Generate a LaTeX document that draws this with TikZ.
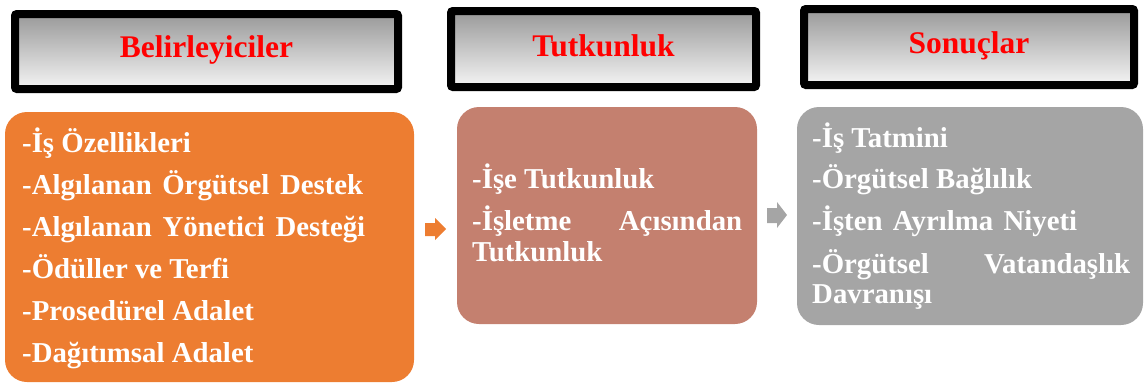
\documentclass[tikz,border=0pt]{standalone}
\usepackage{fontspec}
\setmainfont{Liberation Serif}
\definecolor{orangeA}{HTML}{ED7D31}
\definecolor{roseA}{HTML}{C4806F}
\definecolor{greyA}{HTML}{A5A5A5}
\definecolor{headRed}{HTML}{FF0000}
\hbadness=10000
\tikzset{
  headbox/.style={draw=black, line width=8pt, rounded corners=2pt,
    top color=black!40, bottom color=black!4},
  headtext/.style={anchor=base, inner sep=0pt, text=headRed,
    font=\fontsize{31.5}{36}\selectfont\bfseries},
  bodybox/.style={rounded corners=22pt},
  item/.style={anchor=base west, inner sep=0pt, text=white,
    font=\fontsize{28.8}{32}\selectfont\bfseries},
}
% a justified line of a given width
\newcommand{\jline}[2]{\hbox to #1pt{#2}}
\begin{document}
\begin{tikzpicture}[x=1pt, y=-1pt]
  \useasboundingbox (0,0) rectangle (1145,383);

  % column headings
  \draw[headbox] (15,14) rectangle (398,89);
  \draw[headbox] (451,11) rectangle (756,87);
  \draw[headbox] (804,9) rectangle (1134,85);
  \node[headtext] (h1) at (206.5,57) {Belirleyiciler};
  \node[headtext] (h2) at (603.5,56) {Tutkunluk};
  \node[headtext] (h3) at (969,53) {Sonuçlar};

  % content panels
  \fill[bodybox, orangeA] (5,112) rectangle (414,382);
  \fill[bodybox, roseA] (457,107) rectangle (757,324);
  \fill[bodybox, greyA] (797,107) rectangle (1143,325);

  % first panel
  \node[item] (a1) at (22,152) {-İş Özellikleri};
  \node[item] (a2) at (22,194) {\jline{341}{-Algılanan Örgütsel Destek}};
  \node[item] (a3) at (22,236) {\jline{343}{-Algılanan Yönetici Desteği}};
  \node[item] (a4) at (22,278) {-Ödüller ve Terfi};
  \node[item] (a5) at (22,320) {-Prosedürel Adalet};
  \node[item] (a6) at (22,362) {-Dağıtımsal Adalet};

  % second panel
  \node[item] (b1) at (472,188) {-İşe Tutkunluk};
  \node[item] (b2) at (472,230) {\jline{270}{-İşletme\hfill Açısından}};
  \node[item] (b3) at (472,261) {Tutkunluk};

  % third panel
  \node[item] (c1) at (812,147) {-İş Tatmini};
  \node[item] (c2) at (812,188) {-Örgütsel Bağlılık};
  \node[item] (c3) at (812,230) {\jline{265}{-İşten Ayrılma Niyeti}};
  \node[item] (c4) at (812,273) {\jline{318}{-Örgütsel\hfill Vatandaşlık}};
  \node[item] (c5) at (812,303) {Davranışı};

  % block arrows between panels
  \fill[orangeA] (425,223) -- (435,223) -- (435,218) -- (446,229)
    -- (435,240) -- (435,236) -- (425,236) -- cycle;
  \fill[greyA] (767,208) -- (777,208) -- (777,202) -- (787,215)
    -- (777,228) -- (777,223) -- (767,223) -- cycle;
\end{tikzpicture}
\end{document}
